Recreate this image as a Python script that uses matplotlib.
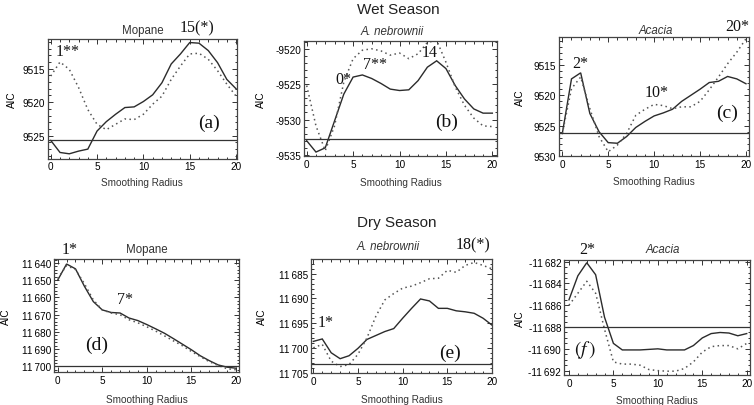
import matplotlib
matplotlib.use("Agg")
import matplotlib.pyplot as plt
from matplotlib.ticker import MultipleLocator, FuncFormatter

plt.rcParams['font.family'] = ['Liberation Sans', 'DejaVu Sans']
plt.rcParams['mathtext.fontset'] = 'stix'

W, H = 754, 406

radius = list(range(21))

# Wet season
wet_mopane_solid = [9525.7, 9527.5, 9527.7, 9527.3, 9527.0, 9524.3, 9522.9, 9521.8, 9520.8, 9520.7,
                    9519.9, 9518.9, 9517.1, 9514.3, 9512.8, 9511.1, 9511.2, 9512.3, 9514.1, 9516.6, 9518.0]
wet_mopane_dotted = [9516.1, 9514.0, 9515.1, 9517.8, 9521.1, 9523.3, 9524.1, 9523.3, 9522.5, 9522.6,
                     9521.8, 9520.3, 9519.1, 9516.6, 9514.6, 9512.8, 9512.7, 9513.6, 9515.3, 9517.3, 9519.1]
wet_mopane_ref = 9525.7

wet_neb_solid = [9533.0, 9534.6, 9534.0, 9530.2, 9526.4, 9524.0, 9523.7, 9524.2, 9524.9, 9525.7,
                 9525.9, 9525.8, 9524.5, 9522.6, 9521.7, 9522.8, 9525.2, 9527.1, 9528.5, 9529.1, 9529.1]
wet_neb_dotted = [9525.2, 9530.9, 9534.4, 9530.9, 9524.7, 9521.4, 9520.2, 9520.0, 9520.3, 9520.9,
                  9520.6, 9521.4, 9520.7, 9519.1, 9518.8, 9521.9, 9525.4, 9528.0, 9529.8, 9530.9, 9531.0]
wet_neb_ref = 9532.7

wet_acacia_solid = [9526.3, 9517.3, 9516.3, 9523.0, 9526.0, 9527.8, 9527.9, 9526.8, 9525.3, 9524.3,
                    9523.4, 9522.9, 9522.3, 9521.0, 9520.0, 9519.0, 9517.9, 9517.7, 9516.9, 9517.3, 9518.1]
wet_acacia_dotted = [9526.3, 9518.9, 9517.0, 9522.2, 9526.8, 9529.3, 9528.2, 9526.3, 9523.3, 9522.3,
                     9521.5, 9521.7, 9522.2, 9521.9, 9521.9, 9521.0, 9519.1, 9517.0, 9514.8, 9512.9, 9510.7]
wet_acacia_ref = 9526.2

# Dry season
dry_mopane_solid = [11650.0, 11640.6, 11643.4, 11653.5, 11662.4, 11667.2, 11668.7, 11669.0, 11671.9, 11673.4,
                    11675.7, 11678.2, 11680.8, 11683.9, 11687.1, 11690.3, 11693.8, 11696.6, 11699.1, 11700.4, 11701.0]
dry_mopane_dotted = [11649.0, 11641.5, 11643.8, 11652.0, 11661.4, 11667.2, 11669.0, 11670.0, 11672.9, 11674.7,
                     11677.0, 11679.5, 11682.3, 11685.2, 11688.0, 11691.3, 11694.3, 11697.2, 11699.4, 11701.3, 11701.9]
dry_mopane_ref = 11700.0

dry_neb_solid = [11698.7, 11698.2, 11701.0, 11702.2, 11701.6, 11700.1, 11698.3, 11697.5, 11696.7, 11696.1,
                 11694.0, 11692.0, 11690.1, 11690.5, 11692.0, 11692.0, 11692.5, 11692.7, 11693.0, 11694.0, 11695.4]
dry_neb_dotted = [11700.0, 11699.3, 11702.7, 11703.8, 11703.4, 11701.3, 11698.0, 11693.6, 11690.3, 11689.0,
                  11687.9, 11687.5, 11686.8, 11686.0, 11685.9, 11684.3, 11684.7, 11683.3, 11682.7, 11683.3, 11684.0]
dry_neb_ref = 11703.2

dry_acacia_solid = [11685.5, 11683.3, 11682.1, 11683.2, 11687.1, 11689.5, 11690.1, 11690.1, 11690.1, 11690.05,
                    11690.0, 11690.1, 11690.1, 11690.1, 11689.7, 11689.0, 11688.6, 11688.5, 11688.55, 11688.8, 11688.6]
dry_acacia_dotted = [11686.0, 11684.9, 11683.8, 11684.9, 11688.2, 11691.2, 11691.4, 11691.4, 11691.5, 11691.9,
                     11692.0, 11692.05, 11692.05, 11691.8, 11691.2, 11690.3, 11689.8, 11689.7, 11689.7, 11690.0, 11689.5]
dry_acacia_ref = 11688.0

titles = ["Mopane", "A. nebrownii", "Acacia", "Mopane", "A. nebrownii", "Acacia"]
italic = [False, True, True, False, True, True]
season_titles = ["Wet Season", "Dry Season"]

fig = plt.figure(figsize=(W / 100, H / 100), dpi=100)


def px(x, y):
    return x / W, 1 - y / H


def make_ax(l, t, r, b):
    return fig.add_axes([l / W, 1 - b / H, (r - l) / W, (b - t) / H])


panels = [
    # rect (l, t, r, b), xlim, ylim(top, bottom), ytick step, fmt type, data
    dict(rect=(47.5, 39.5, 237, 159.5), xlim=(-0.35, 20.1), ylim=(9510.5, 9528.4), step=5, minor=1,
         fmt="plain", s=wet_mopane_solid, d=wet_mopane_dotted, ref=wet_mopane_ref, ylab_x=12, xlab_y=183,
         title_pos=(143, 31)),
    dict(rect=(304, 42, 497, 157.3), xlim=(-0.29, 20.5), ylim=(9518.9, 9535.2), step=5, minor=1,
         fmt="neg", s=wet_neb_solid, d=wet_neb_dotted, ref=wet_neb_ref, ylab_x=261, xlab_y=183,
         title_pos=(392, 32)),
    dict(rect=(559, 38, 749, 157), xlim=(-0.36, 20.33), ylim=(9510.4, 9530.0), step=5, minor=1,
         fmt="plain", s=wet_acacia_solid, d=wet_acacia_dotted, ref=wet_acacia_ref, ylab_x=520, xlab_y=182,
         title_pos=(656, 31)),
    dict(rect=(54, 260, 239, 373), xlim=(-0.41, 20.34), ylim=(11637.7, 11703.2), step=10, minor=2,
         fmt="thin", s=dry_mopane_solid, d=dry_mopane_dotted, ref=dry_mopane_ref, ylab_x=6, xlab_y=400,
         title_pos=(147, 250)),
    dict(rect=(311, 260, 492, 374), xlim=(-0.26, 20.0), ylim=(11682.0, 11705.1), step=5, minor=1,
         fmt="thin", s=dry_neb_solid, d=dry_neb_dotted, ref=dry_neb_ref, ylab_x=262, xlab_y=400,
         title_pos=(388, 247)),
    dict(rect=(564, 261, 750, 376), xlim=(-0.56, 20.37), ylim=(11681.85, 11692.4), step=2, minor=0.5,
         fmt="negthin", s=dry_acacia_solid, d=dry_acacia_dotted, ref=dry_acacia_ref, ylab_x=520, xlab_y=401,
         title_pos=(663, 250)),
]


def formatter(kind):
    def f(v, pos):
        n = int(round(v))
        s = str(n)
        if "thin" in kind and n >= 10000:
            s = s[:-3] + "\u2009" + s[-3:]
        if kind.startswith("neg"):
            s = "-" + s
        return s
    return FuncFormatter(f)


for i, p in enumerate(panels):
    ax = make_ax(*p["rect"])
    ax.plot(radius, p["s"], color="#2b2b2b", lw=1.0, solid_joinstyle="miter")
    ax.plot(radius, p["d"], color="#555555", lw=1.1, linestyle=(0, (1, 2.2)))
    ax.axhline(p["ref"], color="#333333", lw=0.9)
    ax.set_xlim(*p["xlim"])
    ax.set_ylim(p["ylim"][1], p["ylim"][0])
    ax.xaxis.set_major_locator(MultipleLocator(5))
    ax.xaxis.set_minor_locator(MultipleLocator(1))
    ax.yaxis.set_major_locator(MultipleLocator(p["step"]))
    ax.yaxis.set_minor_locator(MultipleLocator(p["minor"]))
    ax.yaxis.set_major_formatter(formatter(p["fmt"]))
    ax.tick_params(which="both", direction="in", top=True, right=True, labelsize=7.2,
                   color="#333333", width=0.7, pad=2)
    ax.tick_params(which="major", length=3.5)
    ax.tick_params(which="minor", length=1.8)
    for sp in ax.spines.values():
        sp.set_color("#444444")
        sp.set_linewidth(0.9)
    l, t, r, b = p["rect"]
    fig.text(*px(p["ylab_x"], (t + b) / 2), "AIC", rotation=90, ha="center", va="center", fontsize=7.2)
    fig.text(*px((l + r) / 2, p["xlab_y"]), "Smoothing Radius", ha="center", va="center", fontsize=7.2,
             color="#333333")
    fig.text(*px(*p["title_pos"]), titles[i], ha="center", va="center", fontsize=8.3,
             style="italic" if italic[i] else "normal", color="#333333")

fig.text(*px(398, 10), season_titles[0], ha="center", va="center", fontsize=11, color="#222222")
fig.text(*px(397, 223), season_titles[1], ha="center", va="center", fontsize=11, color="#222222")

annotations = [
    ("15(*)", 197, 28), ("1**", 68, 52), ("(a)", 209, 123),
    ("0*", 343, 80), ("7**", 375, 65), ("14", 430, 53), ("(b)", 447, 122),
    ("2*", 580, 64), ("10*", 657, 93), ("20*", 737, 27), ("(c)", 727, 113),
    ("1*", 70, 250), ("7*", 125, 300), ("(d)", 97, 345),
    ("18(*)", 473, 245), ("1*", 326, 323), ("(e)", 450, 353),
    ("2*", 587, 250), (r"$(f\,)$", 585, 350),
]
for txt, x, y in annotations:
    big = txt.startswith("(") or txt.startswith("$")
    fig.text(*px(x, y), txt, ha="center", va="center", fontsize=14 if big else 11.5,
             family="Liberation Serif", color="#111111")

fig.savefig("out.png", dpi=100)
